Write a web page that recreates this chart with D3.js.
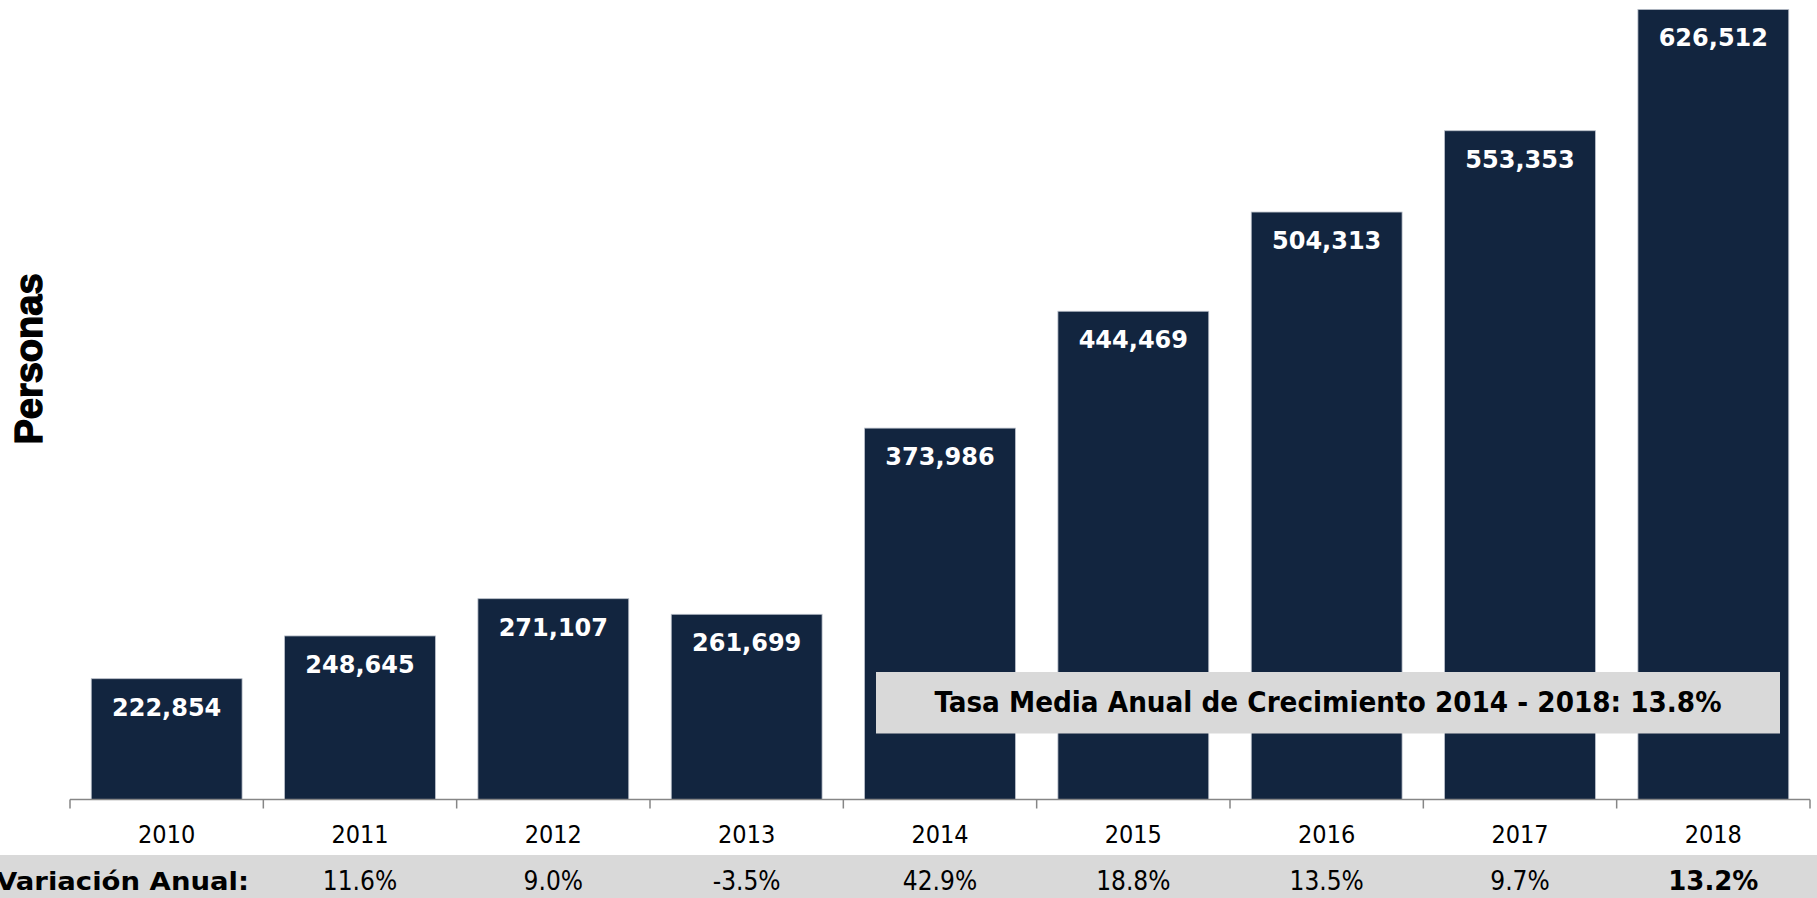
<!DOCTYPE html>
<html>
<head>
<meta charset="utf-8">
<script src="https://cdn.jsdelivr.net/npm/d3@7"></script>
<style>
  body { margin: 0; background: #fff; overflow: hidden; }
</style>
</head>
<body>
<div class="chart"></div>
<script>
// DATA ------------------------------------
const years = ['2010', '2011', '2012', '2013', '2014', '2015', '2016', '2017', '2018']
const personas = [222854, 248645, 271107, 261699, 373986, 444469, 504313, 553353, 626512]
const variacion = [null, 11.6, 9.0, -3.5, 42.9, 18.8, 13.5, 9.7, 13.2]
const tasaTexto = 'Tasa Media Anual de Crecimiento 2014 - 2018: 13.8%'

// CHART INIT ------------------------------
const W = 1817, H = 898
const plot = {left: 70, right: 1810, bottom: 799.5}

const svg = d3.select('.chart')
  .append('svg')
  .attr('width', W)
  .attr('height', H)

let xScale = d3.scaleBand()
  .domain(years)
  .range([plot.left, plot.right])
  .paddingInner(0.22)
  .paddingOuter(0.11)

// axis starts at 150,000 (not zero), top of plot cut above the window
let yScale = d3.scaleLinear()
  .domain([150000, 650000])
  .range([plot.bottom, -29.5])

const center = y => xScale(y) + xScale.bandwidth() / 2

// bars
svg.selectAll('.bar')
  .data(personas)
  .enter()
  .append('rect')
  .attr('class', 'bar')
  .attr('x', (d, i) => xScale(years[i]))
  .attr('y', d => yScale(d))
  .attr('width', xScale.bandwidth())
  .attr('height', d => plot.bottom - yScale(d))
  .attr('fill', '#12253f')
  .attr('stroke', '#b8bec8')
  .attr('stroke-width', 0.8)

// value labels
svg.selectAll('.val')
  .data(personas)
  .enter()
  .append('text')
  .attr('class', 'val')
  .attr('x', (d, i) => center(years[i]))
  .attr('y', d => yScale(d) + 37)
  .attr('text-anchor', 'middle')
  .attr('fill', '#fff')
  .style('font-family', 'DejaVu Sans')
  .style('font-weight', 'bold')
  .style('font-size', '24px')
  .text(d => d3.format(',')(d))

// x axis: ticks between categories
const edges = years.map(y => xScale(y) - xScale.step() * xScale.paddingInner() / 2)
edges.push(plot.right)
const axisG = svg.append('g').attr('class', 'axis')
axisG.append('line')
  .attr('x1', plot.left).attr('x2', plot.right)
  .attr('y1', plot.bottom).attr('y2', plot.bottom)
  .attr('stroke', '#868686').attr('stroke-width', 1.5)
axisG.selectAll('.tick')
  .data(edges)
  .enter()
  .append('line')
  .attr('x1', d => d).attr('x2', d => d)
  .attr('y1', plot.bottom).attr('y2', plot.bottom + 9)
  .attr('stroke', '#868686').attr('stroke-width', 1.5)

axisG.selectAll('.yr')
  .data(years)
  .enter()
  .append('text')
  .attr('x', d => center(d))
  .attr('y', 843)
  .attr('text-anchor', 'middle')
  .attr('fill', '#000')
  .style('font-family', 'DejaVu Sans Condensed')
  .style('font-size', '25px')
  .text(d => d)

// y axis title
svg.append('text')
  .attr('transform', 'translate(42,359) rotate(-90)')
  .attr('text-anchor', 'middle')
  .attr('stroke', '#000')
  .attr('stroke-width', 1.3)
  .style('font-family', 'Liberation Sans')
  .style('font-weight', 'bold')
  .style('font-size', '38px')
  .text('Personas')

// variacion anual row
svg.append('rect')
  .attr('x', 0).attr('y', 855)
  .attr('width', W).attr('height', H - 855)
  .attr('fill', '#d9d9d9')

svg.append('text')
  .attr('x', 249)
  .attr('y', 890)
  .attr('text-anchor', 'end')
  .attr('textLength', 253)
  .attr('lengthAdjust', 'spacingAndGlyphs')
  .style('font-family', 'DejaVu Sans')
  .style('font-weight', 'bold')
  .style('font-size', '25px')
  .text('Variación Anual:')

const varRows = years.map((y, i) => ({year: y, v: variacion[i], last: i === years.length - 1}))
  .filter(d => d.v !== null)

svg.selectAll('.var')
  .data(varRows)
  .enter()
  .append('text')
  .attr('class', 'var')
  .attr('x', d => center(d.year))
  .attr('y', 890)
  .attr('text-anchor', 'middle')
  .style('font-family', d => d.last ? 'DejaVu Sans' : 'DejaVu Sans Condensed')
  .style('font-size', '26px')
  .style('font-weight', d => d.last ? 'bold' : 'normal')
  .text(d => d.v.toFixed(1) + '%')

// tasa media box
svg.append('rect')
  .attr('x', 876).attr('y', 672)
  .attr('width', 904).attr('height', 61.5)
  .attr('fill', '#d9d9d9')
svg.append('text')
  .attr('x', 1328)
  .attr('y', 712)
  .attr('text-anchor', 'middle')
  .attr('textLength', 787)
  .attr('lengthAdjust', 'spacingAndGlyphs')
  .style('font-family', 'DejaVu Sans Condensed')
  .style('font-weight', 'bold')
  .style('font-size', '28px')
  .text(tasaTexto)
</script>
</body>
</html>
